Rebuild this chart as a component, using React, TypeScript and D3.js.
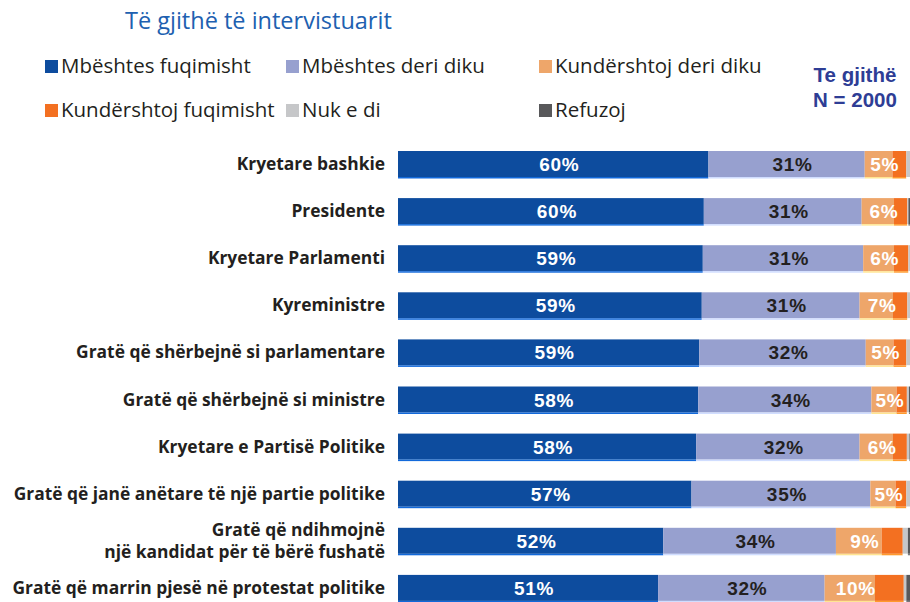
import React from "react";
import * as d3 from "d3";

const categories = [
  "Kryetare bashkie",
  "Presidente",
  "Kryetare Parlamenti",
  "Kyreministre",
  "Gratë që shërbejnë si parlamentare",
  "Gratë që shërbejnë si ministre",
  "Kryetare e Partisë Politike",
  "Gratë që janë anëtare të një partie politike",
  "Gratë që ndihmojnë\nnjë kandidat për të bërë fushatë",
  "Gratë që marrin pjesë në protestat politike",
];

const seriesNames = [
  "Mbështes fuqimisht",
  "Mbështes deri diku",
  "Kundërshtoj deri diku",
  "Kundërshtoj fuqimisht",
  "Nuk e di",
  "Refuzoj",
];

const strongSupport = [60.4, 59.5, 59.3, 59.1, 58.6, 58.4, 58.0, 57.1, 51.6, 50.6];
const someSupport = [30.4, 30.7, 31.2, 30.7, 32.4, 33.7, 31.8, 34.8, 33.6, 32.4];
const someOppose = [5.4, 6.3, 6.0, 6.5, 5.4, 4.9, 6.5, 4.9, 8.9, 9.8];
const strongOppose = [2.7, 2.6, 2.8, 2.8, 2.5, 2.0, 2.7, 2.1, 4.1, 5.6];
const dontKnow = [0.9, 0.2, 0.5, 0.7, 0.8, 0.4, 0.5, 0.8, 1.0, 0.5];
const refuse = [0.2, 0.7, 0.2, 0.2, 0.3, 0.6, 0.5, 0.2, 0.7, 1.0];

const strongSupportLabels = ["60%", "60%", "59%", "59%", "59%", "58%", "58%", "57%", "52%", "51%"];
const someSupportLabels = ["31%", "31%", "31%", "31%", "32%", "34%", "32%", "35%", "34%", "32%"];
const someOpposeLabels = ["5%", "6%", "6%", "7%", "5%", "5%", "6%", "5%", "9%", "10%"];

const colors = ["#0d4c9e", "#97a0cf", "#eea66a", "#f37021", "#c6c7c9", "#58585a"];
const labelColors = ["#ffffff", "#231f20", "#ffffff"];

const W = 910;
const H = 602;

export default function App() {
  const series = [strongSupport, someSupport, someOppose, strongOppose, dontKnow, refuse];
  const labels = [strongSupportLabels, someSupportLabels, someOpposeLabels];

  const x = d3.scaleLinear().domain([0, 100]).range([398, 912]);
  const y = d3
    .scaleBand<string>()
    .domain(categories)
    .range([140.45, 611.45])
    .paddingInner(0.448)
    .paddingOuter(0.224);
  const bw = y.bandwidth();

  const rows = categories.map((c, i) => {
    let acc = 0;
    const segs = series.map((s, k) => {
      const x0 = acc;
      acc += s[i];
      return { k, x0, x1: acc };
    });
    return { c, i, segs };
  });

  const legendPos = [
    [45, 60],
    [286, 60],
    [539, 60],
    [45, 104],
    [286, 104],
    [539, 104],
  ];

  const labelFont = "'Open Sans', 'Liberation Sans', sans-serif";
  const valueFont = "'Liberation Sans', Arial, sans-serif";
  const legendFont = "'Open Sans', 'Liberation Sans', sans-serif";

  return (
    <svg
      width={W}
      height={H}
      style={{ position: "absolute", left: 0, top: 0, background: "#fff" }}
    >
      <rect x={0} y={0} width={W} height={H} fill="#fff" />
      <text
        x={125}
        y={29}
        fill="#2060b0"
        fontFamily={legendFont}
        fontWeight={400}
        fontSize={23.5}
      >
        Të gjithë të intervistuarit
      </text>

      {seriesNames.map((n, k) => (
        <g key={n}>
          <rect x={legendPos[k][0]} y={legendPos[k][1]} width={13} height={13} fill={colors[k]} />
          <text
            x={legendPos[k][0] + 16}
            y={legendPos[k][1] + 12.5}
            fontFamily={legendFont}
            fontWeight={400}
            fontSize={20.5}
            fill="#231f20"
          >
            {n}
          </text>
        </g>
      ))}

      <text
        x={855}
        y={82}
        textAnchor="middle"
        fontFamily={valueFont}
        fontWeight="bold"
        fontSize={20.5}
        fill="#2e3d95"
      >
        Te gjithë
      </text>
      <text
        x={855}
        y={107}
        textAnchor="middle"
        fontFamily={valueFont}
        fontWeight="bold"
        fontSize={20.5}
        fill="#2e3d95"
      >
        N = 2000
      </text>

      {rows.map((r) => {
        const y0 = y(r.c) as number;
        const lines = r.c.split("\n");
        const cy = y0 + bw / 2;
        return (
          <g key={r.c}>
            <text
              x={385}
              textAnchor="end"
              fontFamily={labelFont}
              fontWeight="bold"
              fontSize={17.4}
              fill="#231f20"
            >
              {lines.map((l, li) => (
                <tspan
                  key={li}
                  x={385}
                  y={cy + 6 + (li - (lines.length - 1) / 2) * 22}
                >
                  {l}
                </tspan>
              ))}
            </text>
            {r.segs.map((s) => (
              <g key={s.k}>
                <rect
                  x={x(s.x0)}
                  y={y0}
                  width={Math.max(0, x(s.x1) - x(s.x0))}
                  height={bw}
                  fill={colors[s.k]}
                />
                <rect
                  x={x(s.x0)}
                  y={y0 + bw}
                  width={Math.max(0, x(s.x1) - x(s.x0))}
                  height={1.5}
                  fill={d3.color(colors[s.k])!.brighter(0.9).formatHex()}
                />
              </g>
            ))}
            {labels.map((lab, k) => {
              const s = r.segs[k];
              return (
                <text
                  key={k}
                  x={(x(s.x0) + x(s.x1)) / 2 + 6}
                  y={cy + 7}
                  textAnchor="middle"
                  fontFamily={valueFont}
                  fontWeight="bold"
                  fontSize={19}
                  letterSpacing={0.7}
                  fill={labelColors[k]}
                >
                  {lab[r.i]}
                </text>
              );
            })}
          </g>
        );
      })}
    </svg>
  );
}
